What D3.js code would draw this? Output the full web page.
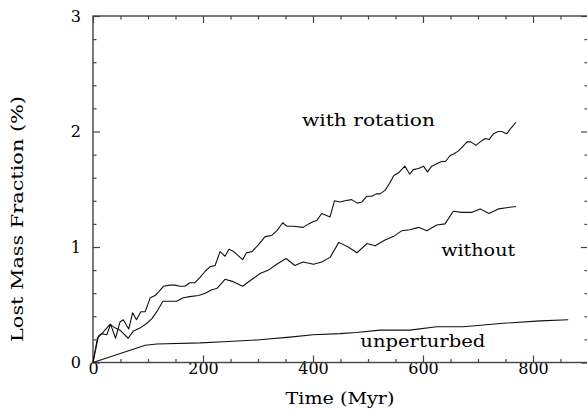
<!DOCTYPE html>
<html><head><meta charset="utf-8">
<script src="https://cdn.jsdelivr.net/npm/d3@7"></script>
<style>body{margin:0;background:#fff;}svg{display:block;}</style>
</head><body>
<script>
// Data (Time in Myr, lost mass fraction in %)
const rotT = [0,8,16,25,32,41,49,55,65,72,79,87,95,104,113,119,128,140,149,158,167,176,185,195,204,213,222,231,240,247,256,272,279,289,301,313,325,334,345,352,364,382,392,401,407,416,431,439,449,458,470,481,489,498,507,515,522,531,539,547,555,567,576,582,592,601,608,616,625,634,641,649,657,664,672,680,687,696,704,713,720,728,737,743,752,760,769];
const rotV = [0,0.21,0.25,0.24,0.33,0.21,0.35,0.37,0.29,0.43,0.37,0.44,0.44,0.56,0.58,0.61,0.66,0.67,0.67,0.66,0.66,0.69,0.69,0.74,0.79,0.83,0.84,0.96,0.92,0.98,0.96,0.89,0.95,0.96,1.02,1.09,1.10,1.14,1.21,1.18,1.18,1.17,1.20,1.22,1.23,1.29,1.26,1.40,1.39,1.40,1.41,1.38,1.39,1.44,1.44,1.46,1.46,1.49,1.55,1.62,1.64,1.70,1.63,1.67,1.68,1.70,1.65,1.70,1.72,1.74,1.74,1.79,1.81,1.83,1.87,1.91,1.91,1.88,1.91,1.94,1.93,1.98,2.00,2.00,1.98,2.03,2.08];
const woT = [0,10,16,31,40,49,64,73,86,98,107,116,127,140,152,164,176,192,204,216,225,240,255,272,286,304,319,334,351,367,382,401,416,431,447,464,480,498,513,531,546,561,576,592,607,625,640,655,670,689,704,720,737,752,769];
const woV = [0,0.23,0.25,0.33,0.30,0.28,0.21,0.27,0.30,0.34,0.38,0.44,0.53,0.53,0.53,0.56,0.57,0.58,0.60,0.63,0.64,0.72,0.70,0.66,0.71,0.77,0.80,0.85,0.90,0.84,0.87,0.85,0.87,0.91,1.04,1.00,0.95,1.03,1.01,1.06,1.09,1.14,1.15,1.17,1.14,1.19,1.20,1.31,1.30,1.30,1.33,1.29,1.33,1.34,1.35];
const unT = [0,95,116,195,237,298,358,400,449,479,522,576,625,673,746,813,864];
const unV = [0,0.15,0.16,0.17,0.18,0.195,0.22,0.24,0.25,0.26,0.28,0.28,0.31,0.31,0.34,0.36,0.37];
const xMajor = [0,200,400,600,800];
const yMajor = [0,1,2,3];
const labels = [
  {text:"with rotation", t:380, v:2.05, w:133},
  {text:"without", t:633, v:0.92, w:74},
  {text:"unperturbed", t:486, v:0.13, w:125}
];

const W = 587, H = 413;
const m = {l:93, r:588, t:16, b:362.5};
const font = "'DejaVu Serif', serif";
const svg = d3.select("body").append("svg").attr("width",W).attr("height",H);
const x = d3.scaleLinear().domain([0,900]).range([m.l,m.r]);
const y = d3.scaleLinear().domain([0,3]).range([m.b,m.t]);
const xMinor = d3.range(0,901,50).filter(d=>!xMajor.includes(d));
const yMinor = d3.range(0,3.001,0.2).map(d=>+d.toFixed(1)).filter(d=>!yMajor.includes(d));

function ax(gen, tr, vals, size, lab){
  const g = svg.append("g").attr("transform",tr)
    .call(gen.tickValues(vals).tickSizeInner(size).tickSizeOuter(0).tickPadding(12).tickFormat(lab?d3.format("d"):""));
  g.select(".domain").remove();
  g.selectAll("line").attr("stroke","#444").attr("stroke-width",1.2);
  g.selectAll("text").attr("font-family",font).attr("font-size",16).attr("fill","#000");
  return g;
}
ax(d3.axisBottom(x), `translate(0,${m.b})`, xMajor, -7, true).selectAll("text").attr("dy","0.62em").attr("transform","translate(0,-10)");
ax(d3.axisBottom(x), `translate(0,${m.b})`, xMinor, -3.5, false);
ax(d3.axisTop(x), `translate(0,${m.t})`, xMajor, -7, false);
ax(d3.axisTop(x), `translate(0,${m.t})`, xMinor, -3.5, false);
ax(d3.axisLeft(y), `translate(${m.l},0)`, yMajor, -7, true).selectAll("text").attr("x",-12);
ax(d3.axisLeft(y), `translate(${m.l},0)`, yMinor, -3.5, false);
ax(d3.axisRight(y), `translate(${m.r},0)`, yMajor, -7, false);
ax(d3.axisRight(y), `translate(${m.r},0)`, yMinor, -3.5, false);

svg.append("rect").attr("x",m.l).attr("y",m.t).attr("width",m.r-m.l).attr("height",m.b-m.t)
  .attr("fill","none").attr("stroke","#444").attr("stroke-width",1.4);

const line = d3.line().x(d=>x(d[0])).y(d=>y(d[1]));
[[rotT,rotV],[woT,woV],[unT,unV]].forEach(([T,V])=>{
  svg.append("path").datum(T.map((t,i)=>[t,V[i]])).attr("d",line)
    .attr("fill","none").attr("stroke","#111").attr("stroke-width",1.1).attr("stroke-linejoin","round");
});

labels.forEach(l=>{
  svg.append("text").attr("x",x(l.t)).attr("y",y(l.v)).attr("font-family",font).attr("font-size",16)
    .attr("textLength",l.w).attr("lengthAdjust","spacingAndGlyphs").attr("text-anchor","start")
    .attr("fill","#000").text(l.text);
});
svg.append("text").attr("x",340).attr("y",404).attr("text-anchor","middle").attr("font-family",font)
  .attr("font-size",16).attr("textLength",109).attr("lengthAdjust","spacingAndGlyphs").text("Time (Myr)");
svg.append("text").attr("transform","translate(23,219) rotate(-90)").attr("text-anchor","middle").attr("font-family",font)
  .attr("font-size",16).attr("textLength",246).attr("lengthAdjust","spacingAndGlyphs").text("Lost Mass Fraction (%)");
</script>
</body></html>
